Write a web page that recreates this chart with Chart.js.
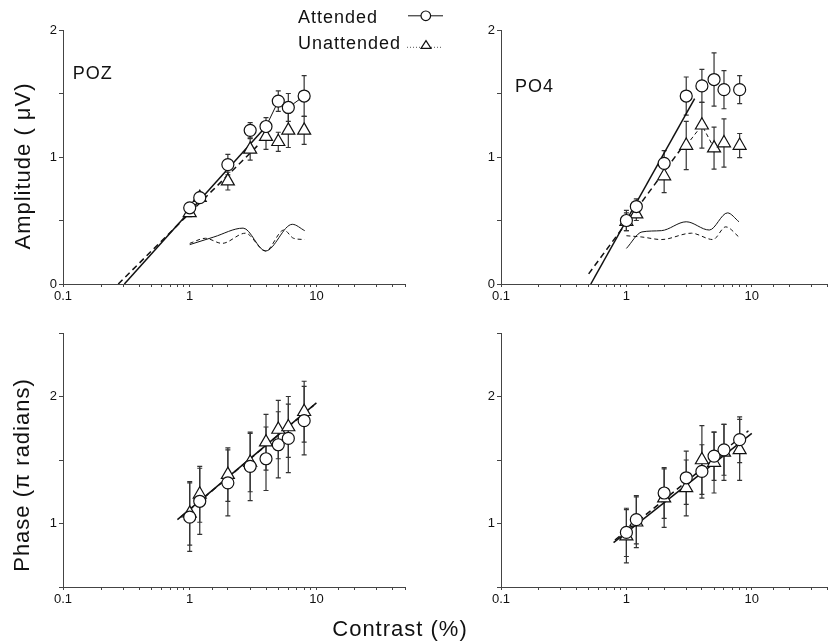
<!DOCTYPE html>
<html>
<head>
<meta charset="utf-8">
<script src="https://cdn.jsdelivr.net/npm/chart.js@4.4.1/dist/chart.umd.min.js"></script>
<style>
  body { margin: 0; width: 836px; height: 644px; overflow: hidden; position: relative; background: #fff;
         font-family: "Liberation Sans", Arial, sans-serif; color: #111; }
  canvas { position: absolute; }
  .txt { position: absolute; white-space: nowrap; line-height: 1; }
  .rot { position: absolute; white-space: nowrap; line-height: 1; font-size: 22px; letter-spacing: 1px;
         transform: translate(-50%, -50%) rotate(-90deg); }
</style>
</head>
<body>
<canvas id="pozAmp" width="420" height="310" style="left:0;top:0"></canvas>
<canvas id="po4Amp" width="416" height="310" style="left:420px;top:0"></canvas>
<canvas id="pozPh" width="420" height="334" style="left:0;top:310px"></canvas>
<canvas id="po4Ph" width="416" height="334" style="left:420px;top:310px"></canvas>

<div class="txt" style="left:298px;top:7.5px;font-size:18px;letter-spacing:1px">Attended</div>
<div class="txt" style="left:298px;top:34px;font-size:18px;letter-spacing:1px">Unattended</div>
<svg style="position:absolute;left:405px;top:0" width="42" height="55">
  <line x1="3" y1="15.8" x2="38" y2="15.8" stroke="#111" stroke-width="1"/>
  <circle cx="20.8" cy="15.8" r="4.8" fill="#fff" stroke="#111" stroke-width="1.2"/>
  <line x1="2" y1="47.3" x2="38" y2="47.3" stroke="#555" stroke-width="1" stroke-dasharray="1,2"/>
  <polygon points="21,40.7 16,48.3 26,48.3" fill="#fff" stroke="#111" stroke-width="1.2"/>
</svg>
<div class="txt" style="left:72.7px;top:64px;font-size:18px;letter-spacing:1px">POZ</div>
<div class="txt" style="left:515px;top:76.5px;font-size:18px;letter-spacing:1px">PO4</div>
<div class="rot" style="left:23px;top:166px">Amplitude ( μV)</div>
<div class="rot" style="left:22px;top:475px">Phase (π radians)</div>
<div class="txt" style="left:400px;top:618.4px;font-size:22px;letter-spacing:1px;transform:translateX(-50%)">Contrast (%)</div>

<script>
const contrast = [1, 1.2, 2, 3, 4, 5, 6, 8];

// POZ amplitude
const pozAmpAtt = [0.60, 0.68, 0.94, 1.21, 1.24, 1.44, 1.39, 1.48];
const pozAmpAttErr = [0.03, 0.03, 0.08, 0.06, 0.07, 0.08, 0.11, 0.16];
const pozAmpUna = [0.56, 0.68, 0.81, 1.06, 1.16, 1.12, 1.21, 1.21];
const pozAmpUnaErr = [0.03, 0.03, 0.07, 0.085, 0.10, 0.075, 0.135, 0.11];
const pozAmpFitAttX = [0.305, 4.0];
const pozAmpFitAttY = [0, 1.24];
const pozAmpFitUnaX = [0.273, 3.6];
const pozAmpFitUnaY = [0, 1.11];
const pozAmpLinkAttX = [4, 5, 6, 8];
const pozAmpLinkAttY = [1.24, 1.44, 1.39, 1.48];
const pozNoiseAttX = [1, 1.55, 2.64, 3.97, 6.45, 8.08];
const pozNoiseAttY = [0.31, 0.37, 0.44, 0.26, 0.47, 0.42];
const pozNoiseUnaX = [1, 1.33, 1.8, 2.75, 3.97, 5.54, 6.6, 8.08];
const pozNoiseUnaY = [0.32, 0.36, 0.32, 0.40, 0.26, 0.425, 0.36, 0.35];

// PO4 amplitude
const po4AmpAtt = [0.50, 0.61, 0.95, 1.48, 1.56, 1.61, 1.53, 1.53];
const po4AmpAttErr = [0.08, 0.06, 0.10, 0.15, 0.13, 0.21, 0.15, 0.11];
const po4AmpUna = [0.49, 0.55, 0.85, 1.09, 1.25, 1.07, 1.11, 1.09];
const po4AmpUnaErr = [0.07, 0.05, 0.13, 0.19, 0.18, 0.165, 0.19, 0.095];
const po4AmpFitAttX = [0.52, 3.5];
const po4AmpFitAttY = [0, 1.46];
const po4AmpFitUnaX = [0.5, 3.0];
const po4AmpFitUnaY = [0.08, 1.12];
const po4AmpLinkUnaX = [3, 4, 5];
const po4AmpLinkUnaY = [1.09, 1.25, 1.07];
const po4NoiseAttX = [1, 1.33, 1.9, 3.0, 4.58, 6.4, 7.9];
const po4NoiseAttY = [0.28, 0.41, 0.42, 0.49, 0.425, 0.56, 0.49];
const po4NoiseUnaX = [1, 1.33, 1.9, 3.3, 4.9, 6.2, 7.9];
const po4NoiseUnaY = [0.38, 0.37, 0.35, 0.40, 0.35, 0.45, 0.37];

// POZ phase
const pozPhAtt = [1.05, 1.175, 1.32, 1.45, 1.51, 1.62, 1.67, 1.81];
const pozPhAttErr = [0.27, 0.26, 0.26, 0.27, 0.25, 0.26, 0.27, 0.27];
const pozPhUna = [1.08, 1.23, 1.385, 1.48, 1.64, 1.74, 1.76, 1.88];
const pozPhUnaErr = [0.25, 0.22, 0.21, 0.23, 0.22, 0.23, 0.24, 0.24];
const pozPhFitAttX = [0.8, 10];
const pozPhFitAttY = [1.03, 1.95];
const pozPhFitUnaX = [0.85, 9.5];
const pozPhFitUnaY = [1.05, 1.93];

// PO4 phase
const po4PhAtt = [0.93, 1.03, 1.24, 1.36, 1.41, 1.53, 1.58, 1.66];
const po4PhAttErr = [0.19, 0.19, 0.2, 0.21, 0.21, 0.19, 0.2, 0.18];
const po4PhUna = [0.90, 1.01, 1.20, 1.28, 1.50, 1.48, 1.56, 1.58];
const po4PhUnaErr = [0.21, 0.2, 0.23, 0.22, 0.27, 0.24, 0.22, 0.24];
const po4PhFitAttX = [0.79, 10];
const po4PhFitAttY = [0.85, 1.71];
const po4PhFitUnaX = [0.81, 9.4];
const po4PhFitUnaY = [0.87, 1.73];

const INK = "#111";
const AXIS = "#444";
const FONT = "'Liberation Sans', Arial, sans-serif";

const pts = (xs, ys) => xs.map((x, i) => ({ x, y: ys[i] }));

// error bars drawn under the markers
const errorBars = {
  id: "errorBars",
  beforeDatasetsDraw(chart) {
    const { ctx, scales: { x, y } } = chart;
    chart.data.datasets.forEach(ds => {
      if (!ds.errors) return;
      ctx.save();
      ctx.strokeStyle = "#333";
      ctx.lineWidth = 1.2;
      ds.data.forEach((p, i) => {
        const px = x.getPixelForValue(p.x);
        const top = y.getPixelForValue(p.y + ds.errors[i]);
        const bot = y.getPixelForValue(p.y - ds.errors[i]);
        ctx.beginPath();
        ctx.moveTo(px, top); ctx.lineTo(px, bot);
        ctx.moveTo(px - 2.5, top); ctx.lineTo(px + 2.5, top);
        ctx.moveTo(px - 2.5, bot); ctx.lineTo(px + 2.5, bot);
        ctx.stroke();
      });
      ctx.restore();
    });
  }
};

function markers(ys, errs, style) {
  return {
    data: pts(contrast, ys),
    errors: errs,
    showLine: false,
    pointStyle: style,
    pointRadius: style === "triangle" ? 7.5 : 6,
    pointBackgroundColor: "#fff",
    pointBorderColor: INK,
    pointBorderWidth: 1.2,
    order: style === "triangle" ? 1 : 0
  };
}

function line(xs, ys, width, dash, smooth) {
  return {
    data: pts(xs, ys),
    showLine: true,
    borderColor: INK,
    borderWidth: width,
    borderDash: dash || [],
    pointRadius: 0,
    cubicInterpolationMode: smooth ? "monotone" : "default",
    order: 3
  };
}

function isDecade(v) {
  const l = Math.log10(v);
  return Math.abs(l - Math.round(l)) < 1e-6;
}

function makePanel(id, datasets, xMax, yMin, yMax, padding) {
  return new Chart(document.getElementById(id), {
    type: "scatter",
    data: { datasets },
    plugins: [errorBars],
    options: {
      responsive: false,
      animation: false,
      layout: { padding },
      plugins: { legend: { display: false }, tooltip: { enabled: false } },
      scales: {
        x: {
          type: "logarithmic",
          min: 0.1,
          max: xMax,
          border: { color: AXIS, width: 1 },
          grid: { drawOnChartArea: false, tickLength: 3, color: AXIS },
          ticks: {
            autoSkip: false, maxRotation: 0, padding: 2, color: INK,
            font: { family: FONT, size: 13 },
            callback: v => (isDecade(v) ? String(Number(v.toPrecision(3))) : "")
          },
          afterFit: s => { s.height = 26; }
        },
        y: {
          type: "linear",
          min: yMin,
          max: yMax,
          border: { color: AXIS, width: 1 },
          grid: { drawOnChartArea: false, tickLength: 4, color: AXIS },
          ticks: {
            stepSize: 0.5, padding: 2, color: INK,
            font: { family: FONT, size: 13 },
            callback: v => (Number.isInteger(v) ? String(v) : "")
          },
          afterFit: s => { s.width = 30; }
        }
      }
    }
  });
}

makePanel("pozAmp", [
  markers(pozAmpAtt, pozAmpAttErr, "circle"),
  markers(pozAmpUna, pozAmpUnaErr, "triangle"),
  line(pozAmpFitAttX, pozAmpFitAttY, 1.5),
  line(pozAmpFitUnaX, pozAmpFitUnaY, 1.5, [6, 4]),
  line(pozAmpLinkAttX, pozAmpLinkAttY, 1),
  line(pozNoiseAttX, pozNoiseAttY, 1, null, true),
  line(pozNoiseUnaX, pozNoiseUnaY, 1, [4, 3], true)
], 50, 0, 2, { left: 33, right: 15, top: 30, bottom: 0 });

makePanel("po4Amp", [
  markers(po4AmpAtt, po4AmpAttErr, "circle"),
  markers(po4AmpUna, po4AmpUnaErr, "triangle"),
  line(po4AmpFitAttX, po4AmpFitAttY, 1.5),
  line(po4AmpFitUnaX, po4AmpFitUnaY, 1.5, [6, 4]),
  line(po4AmpLinkUnaX, po4AmpLinkUnaY, 1, [4, 3]),
  line(po4NoiseAttX, po4NoiseAttY, 1, null, true),
  line(po4NoiseUnaX, po4NoiseUnaY, 1, [4, 3], true)
], 40, 0, 2, { left: 51, right: 4, top: 30, bottom: 0 });

makePanel("pozPh", [
  markers(pozPhAtt, pozPhAttErr, "circle"),
  markers(pozPhUna, pozPhUnaErr, "triangle"),
  line(pozPhFitAttX, pozPhFitAttY, 1.5),
  line(pozPhFitUnaX, pozPhFitUnaY, 1.5, [6, 4])
], 50, 0.5, 2.5, { left: 33, right: 15, top: 23, bottom: 31 });

makePanel("po4Ph", [
  markers(po4PhAtt, po4PhAttErr, "circle"),
  markers(po4PhUna, po4PhUnaErr, "triangle"),
  line(po4PhFitAttX, po4PhFitAttY, 1.5),
  line(po4PhFitUnaX, po4PhFitUnaY, 1.5, [6, 4])
], 40, 0.5, 2.5, { left: 51, right: 4, top: 23, bottom: 31 });
</script>
</body>
</html>
